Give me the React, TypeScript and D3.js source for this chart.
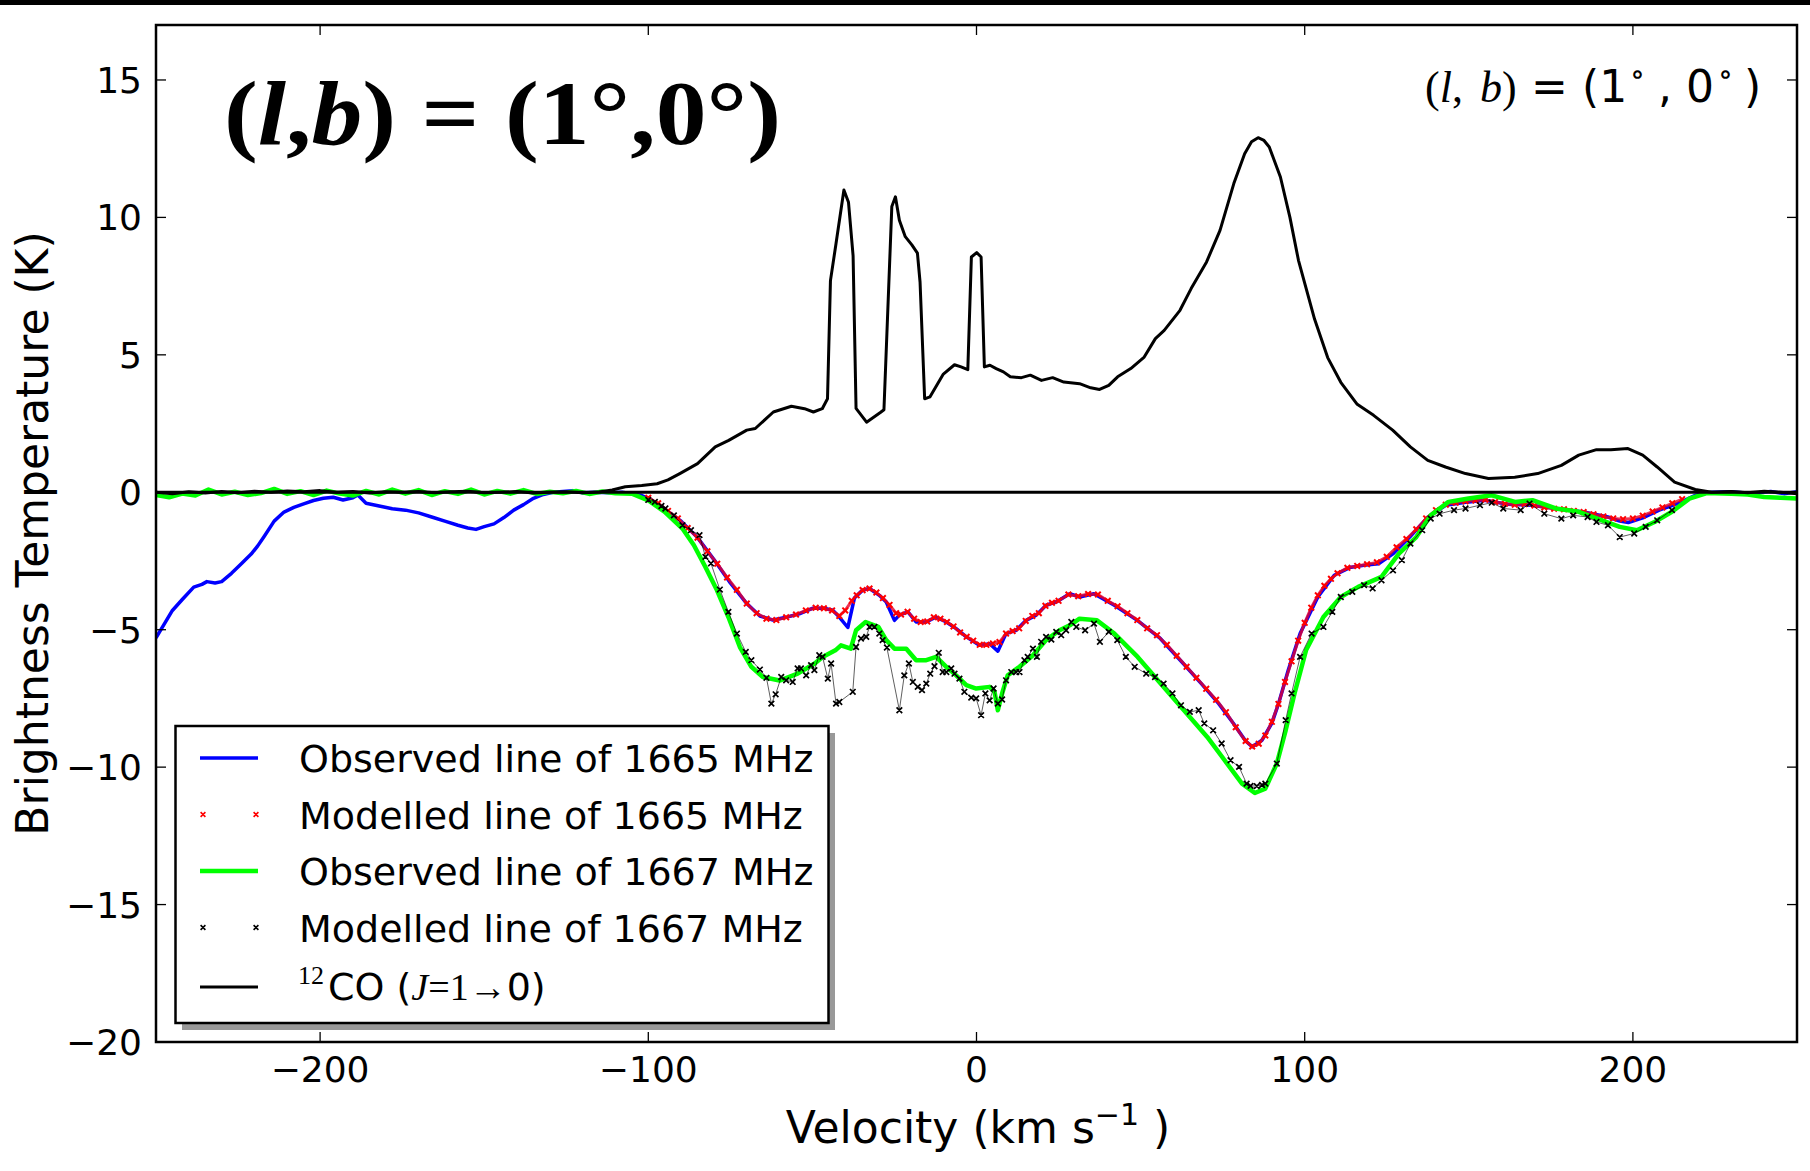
import React from "react";
import * as d3 from "d3";

// axis ticks
const xTicks = [-200, -100, 0, 100, 200];
const yTicks = [-20, -15, -10, -5, 0, 5, 10, 15];

// 12CO (J=1-0) spectrum [velocity, T_B]
const coLine: [number, number][] = [
  [-250, 0.0], [-245, -0.05], [-240, 0.02], [-235, -0.03], [-230, 0.03], [-225, -0.02], [-220, 0.04],
  [-215, 0.0], [-210, 0.05], [-205, 0.02], [-200, 0.06], [-195, 0.0], [-190, 0.03], [-185, -0.03],
  [-180, 0.02], [-175, 0.0], [-170, 0.03], [-165, -0.02], [-160, 0.02], [-155, 0.04], [-150, -0.02],
  [-145, 0.0], [-140, 0.03], [-135, -0.03], [-130, 0.0], [-125, 0.02], [-120, -0.02], [-115, 0.01],
  [-111, 0.08], [-107, 0.2], [-102, 0.25], [-97.3, 0.31], [-94, 0.45], [-90.4, 0.68], [-85, 1.04],
  [-79.6, 1.65], [-75.5, 1.89], [-70, 2.26], [-67.4, 2.32], [-61.9, 2.92], [-56.4, 3.13], [-52.4, 3.04],
  [-49.7, 2.92], [-47, 3.04], [-45.4, 3.4], [-44.5, 7.7], [-42.8, 9.05], [-40.4, 11.0], [-39, 10.55],
  [-37.6, 8.6], [-36.7, 3.05], [-33.5, 2.55], [-29.3, 2.9], [-28.2, 3.0], [-25.8, 10.4], [-24.7, 10.75],
  [-23.5, 9.9], [-21.7, 9.3], [-19.7, 9.0], [-18, 8.7], [-17.2, 7.65], [-15.8, 3.4], [-14.2, 3.47],
  [-10.1, 4.3], [-6.7, 4.64], [-4.7, 4.56], [-2.65, 4.46], [-1.56, 8.56], [0.06, 8.72], [1.4, 8.56],
  [2.4, 4.56], [4.1, 4.62], [6, 4.5], [8.2, 4.38], [10.3, 4.2], [13.7, 4.17], [16.4, 4.26], [19.8, 4.07],
  [23.2, 4.17], [26.6, 4.01], [31.4, 3.95], [34.8, 3.8], [37.5, 3.74], [40.3, 3.89], [43, 4.2], [47, 4.5],
  [51.1, 4.92], [54.5, 5.59], [57.2, 5.89], [62, 6.62], [65.4, 7.41], [70.1, 8.38], [74.2, 9.53],
  [78.4, 11.23], [81.7, 12.32], [83.8, 12.75], [85.8, 12.9], [87.6, 12.8], [89.2, 12.56], [92.6, 11.47],
  [95.5, 10.0], [98.1, 8.44], [103, 6.3], [107, 4.9], [111, 4.0], [116, 3.2], [121, 2.8], [126.8, 2.26],
  [132.2, 1.65], [137.5, 1.16], [142.9, 0.92], [149, 0.68], [156, 0.5], [164, 0.55], [171, 0.68],
  [178.2, 0.98], [183.5, 1.35], [188.9, 1.55], [193.3, 1.55], [198.5, 1.59], [203, 1.35], [207.4, 0.92],
  [212.7, 0.37], [219, 0.1], [224, 0.0], [230, 0.03], [235, -0.02], [240, 0.04], [245, 0.0], [250, -0.05],
];

// observed OH 1665 MHz (blue)
const obs1665: [number, number][] = [
  [-250, -5.3], [-247, -4.7], [-245, -4.3], [-242, -3.9], [-238.5, -3.45], [-236, -3.35], [-234.5, -3.25],
  [-232, -3.3], [-230, -3.25], [-227, -2.95], [-224, -2.6], [-221, -2.25], [-219, -1.95], [-217, -1.6],
  [-214, -1.05], [-211, -0.72], [-208, -0.55], [-205, -0.42], [-202, -0.3], [-199, -0.22], [-196, -0.18],
  [-193, -0.28], [-190, -0.2], [-188.5, -0.1], [-186, -0.4], [-182, -0.5], [-178, -0.6], [-174, -0.65],
  [-170, -0.75], [-166, -0.9], [-162, -1.05], [-158, -1.2], [-155, -1.3], [-152.5, -1.35], [-150, -1.25],
  [-147, -1.15], [-144, -0.92], [-141, -0.65], [-138, -0.45], [-135, -0.22], [-132, -0.08], [-129, 0.0],
  [-126, 0.03], [-123, 0.06], [-120, -0.02], [-116, 0.0], [-112, -0.02], [-108, 0.0], [-105, -0.05],
  [-102, -0.12], [-100, -0.22], [-95, -0.62], [-90, -1.05], [-85, -1.65], [-80, -2.45], [-75, -3.3],
  [-70, -4.05], [-66, -4.5], [-62, -4.65], [-58, -4.55], [-54, -4.42], [-50, -4.22], [-46.5, -4.22],
  [-43.8, -4.29], [-41.8, -4.54], [-39.2, -4.92], [-37.2, -3.85], [-34.7, -3.56], [-32.6, -3.5],
  [-29.6, -3.75], [-27.5, -3.99], [-25, -4.66], [-23.5, -4.47], [-20.9, -4.35], [-18.4, -4.72],
  [-15.3, -4.72], [-12.3, -4.54], [-9.2, -4.72], [-6.2, -4.96], [-3.1, -5.26], [0.9, -5.57], [4, -5.51],
  [6.5, -5.78], [9, -5.14], [12.1, -5.02], [15.1, -4.66], [18.2, -4.47], [21.2, -4.11], [24.3, -3.99],
  [28.4, -3.69], [31.4, -3.81], [35.8, -3.69], [42, -4.11], [49, -4.66], [56, -5.32], [63, -6.23],
  [68.5, -6.96], [73.8, -7.69], [78.3, -8.41], [82, -9.05], [84, -9.26], [87, -9.02], [90, -8.4],
  [92, -7.7], [95, -6.47], [98.6, -5.14], [104, -3.81], [109, -3.02], [113.7, -2.74], [118, -2.66],
  [122.5, -2.6], [127, -2.23], [132, -1.63], [137.6, -0.9], [143, -0.47], [150, -0.35], [155, -0.29],
  [162, -0.44], [169, -0.47], [176.5, -0.59], [185, -0.72], [192.4, -0.9], [196, -1.05], [198.6, -1.1],
  [203, -0.93], [208, -0.65], [213.6, -0.41], [219, -0.11], [224, 0.0], [230, 0.02], [236, -0.04],
  [242, 0.03], [246, -0.05], [250, 0.02],
];

// modelled OH 1665 MHz (red crosses)
const mod1665: [number, number][] = [
  [-100, -0.2], [-97, -0.4], [-94, -0.68], [-91, -0.95], [-88, -1.3], [-85, -1.65], [-82, -2.15],
  [-79, -2.6], [-76, -3.1], [-73, -3.55], [-70, -4.05], [-67, -4.4], [-64, -4.6], [-61, -4.65],
  [-58, -4.55], [-55, -4.45], [-52, -4.3], [-49, -4.2], [-46.5, -4.22], [-44, -4.3], [-41.8, -4.5],
  [-40, -4.3], [-38, -3.95], [-36.5, -3.75], [-34.7, -3.56], [-32.6, -3.5], [-30.5, -3.65],
  [-28.5, -3.85], [-26.5, -4.1], [-24.5, -4.4], [-23, -4.45], [-21, -4.35], [-19, -4.6], [-17, -4.72],
  [-15, -4.7], [-13, -4.55], [-11, -4.6], [-9, -4.72], [-7, -4.88], [-5, -5.1], [-3, -5.26], [-1, -5.4],
  [1, -5.55], [3, -5.55], [5, -5.5], [7, -5.45], [9, -5.14], [11, -5.05], [13, -4.95], [15, -4.68],
  [17, -4.5], [19, -4.4], [21, -4.13], [23, -4.02], [25, -3.95], [28, -3.72], [31, -3.78], [34, -3.7],
  [37, -3.72], [40, -3.95], [43, -4.15], [46, -4.4], [49, -4.65], [52, -4.95], [55, -5.2], [58, -5.55],
  [61, -5.95], [64, -6.35], [67, -6.75], [70, -7.15], [73, -7.55], [76, -8.0], [79, -8.55], [82, -9.05],
  [84, -9.25], [86, -9.15], [88, -8.85], [90, -8.35], [92, -7.7], [94, -6.9], [96, -6.15], [98, -5.4],
  [100, -4.75], [102, -4.2], [104, -3.75], [106, -3.4], [108, -3.15], [110, -2.95], [113, -2.75],
  [116, -2.68], [119, -2.62], [122, -2.55], [125, -2.35], [128, -2.0], [131, -1.7], [134, -1.35],
  [137, -0.95], [140, -0.65], [143, -0.45], [146, -0.38], [149, -0.33], [152, -0.3], [155, -0.27],
  [158, -0.35], [161, -0.42], [164, -0.45], [167, -0.43], [170, -0.48], [173, -0.55], [176, -0.6],
  [179, -0.62], [182, -0.68], [185, -0.72], [188, -0.8], [191, -0.88], [194, -0.95], [197, -0.98],
  [200, -0.95], [203, -0.85], [206, -0.7], [209, -0.55], [212, -0.4], [215, -0.25],
];

// observed OH 1667 MHz (green)
const obs1667: [number, number][] = [
  [-250, -0.1], [-246, -0.18], [-242, -0.05], [-238, -0.12], [-234, 0.1], [-230, -0.08], [-226, 0.02],
  [-222, -0.1], [-218, -0.03], [-214, 0.12], [-210, -0.06], [-206, 0.04], [-202, -0.1], [-198, 0.06],
  [-194, -0.05], [-190, -0.12], [-186, 0.05], [-182, -0.08], [-178, 0.1], [-174, -0.05], [-170, 0.08],
  [-166, -0.1], [-162, 0.04], [-158, -0.06], [-154, 0.1], [-150, -0.08], [-146, 0.05], [-142, -0.05],
  [-138, 0.08], [-134, -0.06], [-130, 0.02], [-126, -0.04], [-122, 0.05], [-118, -0.06], [-114, 0.03],
  [-110, -0.04], [-105, -0.05], [-100, -0.3], [-95, -0.71], [-89.6, -1.32], [-86.1, -1.93],
  [-82.6, -2.72], [-79.1, -3.56], [-75.6, -4.54], [-72.1, -5.63], [-68.6, -6.35], [-65.1, -6.72],
  [-60, -6.85], [-54.5, -6.6], [-49.3, -6.23], [-46.9, -5.99], [-43, -5.75], [-41.3, -5.57],
  [-38.3, -5.69], [-36.7, -5.02], [-33.8, -4.72], [-29.9, -4.9], [-27.5, -5.38], [-25, -5.69],
  [-21.4, -5.69], [-18.4, -6.11], [-15.3, -6.11], [-12.3, -5.99], [-9.2, -6.35], [-6.2, -6.66],
  [-3.1, -7.02], [-0.1, -7.14], [4, -7.08], [5.5, -7.26], [6.5, -7.93], [7.8, -7.32], [9.5, -6.66],
  [13.1, -6.35], [17.2, -5.93], [21.2, -5.38], [25.3, -5.02], [28.4, -4.84], [31.4, -4.6], [36.7, -4.66],
  [42, -5.14], [49.1, -5.99], [56.1, -6.96], [63.2, -7.93], [70.3, -8.9], [75.6, -9.75], [80.9, -10.6],
  [84.8, -10.94], [88, -10.78], [91.5, -9.87], [94.2, -8.66], [96.9, -7.32], [100.4, -5.75],
  [105.7, -4.54], [111, -3.81], [116.3, -3.44], [119.9, -3.26], [123.4, -3.08], [128.7, -2.23],
  [134, -1.63], [138.4, -0.84], [143.8, -0.35], [149.9, -0.23], [157, -0.11], [164.1, -0.35],
  [169.4, -0.29], [176.5, -0.59], [183.5, -0.71], [190.6, -1.02], [196, -1.26], [201.2, -1.38],
  [206.6, -1.08], [211.9, -0.71], [217.2, -0.23], [222.5, -0.03], [230, -0.05], [235, -0.08],
  [240, -0.17], [245, -0.2], [250, -0.23],
];

// modelled OH 1667 MHz (black crosses)
const mod1667: [number, number][] = [
  [-100, -0.28], [-98, -0.35], [-96, -0.5], [-94.8, -0.59], [-92.2, -0.84], [-89.6, -1.2], [-87, -1.38],
  [-84.4, -1.56], [-82.6, -2.35], [-80.9, -2.59], [-78.2, -3.54], [-75.6, -4.35], [-73, -5.14],
  [-70.3, -5.81], [-68.6, -6.11], [-66, -6.45], [-64, -6.75], [-62.5, -7.69], [-61.2, -7.35],
  [-59.5, -6.72], [-58, -6.84], [-56, -6.9], [-54.5, -6.41], [-53.5, -6.41], [-51.9, -6.66],
  [-50.4, -6.29], [-49.4, -6.47], [-47.9, -5.93], [-46.9, -5.99], [-45.3, -6.78], [-44.3, -6.23],
  [-42.8, -7.69], [-41.8, -7.63], [-37.7, -7.26], [-36.7, -5.63], [-35.2, -5.32], [-33.6, -5.26],
  [-32.6, -4.9], [-31.1, -4.9], [-29.6, -5.14], [-28.6, -5.38], [-27.3, -5.65], [-23.5, -7.93],
  [-22, -6.66], [-20.6, -6.23], [-19.4, -6.9], [-17.9, -7.08], [-16.6, -7.2], [-15.3, -6.96],
  [-14.1, -6.6], [-12.8, -6.33], [-11.5, -5.84], [-10.3, -6.54], [-9.2, -6.54], [-7.7, -6.41],
  [-6.7, -6.6], [-5.2, -6.78], [-3.7, -7.26], [-1.6, -7.47], [-0.1, -7.5], [1.4, -8.11], [2.7, -7.32],
  [4, -7.57], [5.2, -7.14], [6.5, -7.69], [7.8, -7.54], [9, -6.84], [10.6, -6.54], [12.1, -6.54],
  [13.1, -6.54], [14.6, -6.11], [15.6, -5.99], [17.2, -5.69], [18.4, -5.99], [19.7, -5.44],
  [21.2, -5.26], [22.8, -5.36], [24.3, -5.08], [25.8, -5.2], [27.3, -5.02], [28.9, -4.72], [30.4, -4.9],
  [33.1, -5.02], [35.8, -4.78], [37.6, -5.44], [40.3, -5.08], [42.9, -5.38], [45.5, -5.99], [48.2, -6.35],
  [51.7, -6.6], [54.4, -6.72], [57, -6.96], [59.7, -7.32], [62.3, -7.75], [65, -7.99], [67.7, -7.93],
  [69.4, -8.41], [72.1, -8.66], [74.7, -9.14], [77.4, -9.75], [80, -9.99], [82.3, -10.6], [83.5, -10.68],
  [85.4, -10.69], [87, -10.65], [88, -10.6], [91.5, -9.87], [94.2, -8.29], [96, -7.32], [98.6, -5.99],
  [102.1, -5.14], [105.7, -4.9], [108.4, -4.35], [111, -3.81], [114.5, -3.62], [118.1, -3.38],
  [120.7, -3.5], [123.4, -3.2], [126.9, -2.84], [129.6, -2.47], [132.2, -1.87], [135.8, -1.38],
  [138.4, -0.96], [141.1, -0.78], [145.5, -0.65], [149, -0.59], [153.4, -0.47], [157, -0.38],
  [160.5, -0.59], [165.8, -0.65], [168.5, -0.41], [173, -0.78], [178.2, -0.96], [181.8, -0.84],
  [186.2, -0.9], [188.9, -1.08], [192.4, -1.2], [196, -1.63], [200.4, -1.5], [203.9, -1.26],
  [207.4, -1.02], [211.9, -0.65],
];

const legendLabels = [
  "Observed line of 1665 MHz",
  "Modelled line of 1665 MHz",
  "Observed line of 1667 MHz",
  "Modelled line of 1667 MHz",
];

const W = 1810;
const H = 1171;
const left = 156;
const right = 1797;
const top = 25;
const bottom = 1042;
const sans = "'DejaVu Sans', sans-serif";
const serif = "'Liberation Serif', 'DejaVu Serif', serif";

export default function App() {
  const x = d3.scaleLinear().domain([-250, 250]).range([left, right]);
  const y = d3.scaleLinear().domain([-20, 17]).range([bottom, top]);
  const line = d3
    .line<[number, number]>()
    .x((d) => x(d[0]))
    .y((d) => y(d[1]));

  const crossAt = (cx: number, cy: number, s: number) =>
    `M${cx - s},${cy - s}L${cx + s},${cy + s}M${cx - s},${cy + s}L${cx + s},${cy - s}`;
  const crosses = (pts: [number, number][], s: number) =>
    pts.map((d) => crossAt(x(d[0]), y(d[1]), s)).join("");

  const rowY = [758, 814.5, 871, 927.5, 987];

  return (
    <svg
      width={W}
      height={H}
      style={{ position: "absolute", left: 0, top: 0, background: "#fff" }}
    >
      <rect x={0} y={0} width={W} height={H} fill="#fff" />
      <rect x={0} y={0} width={W} height={5} fill="#000" />
      <defs>
        <clipPath id="plot">
          <rect x={left} y={top} width={right - left} height={bottom - top} />
        </clipPath>
      </defs>

      <g clipPath="url(#plot)" fill="none" strokeLinejoin="round">
        <path d={line(obs1665) || ""} stroke="#0000ff" strokeWidth={3.5} />
        <path d={line(mod1665) || ""} stroke="#e8002a" strokeWidth={3} strokeOpacity={0.8} />
        <path d={crosses(mod1665, 2.8)} stroke="#ff0000" strokeWidth={2} />
        <path d={line(obs1667) || ""} stroke="#00ff00" strokeWidth={4.5} />
        <path d={line(mod1667) || ""} stroke="#000" strokeWidth={0.9} strokeOpacity={0.7} />
        <path d={crosses(mod1667, 2.8)} stroke="#000" strokeWidth={1.7} />
        <path d={line(coLine) || ""} stroke="#000" strokeWidth={3} />
        <line x1={left} x2={right} y1={y(0)} y2={y(0)} stroke="#000" strokeWidth={3} />
      </g>

      {/* frame */}
      <rect
        x={left}
        y={top}
        width={right - left}
        height={bottom - top}
        fill="none"
        stroke="#000"
        strokeWidth={2.5}
      />

      {/* x ticks */}
      {xTicks.map((t) => (
        <g key={"x" + t}>
          <line x1={x(t)} x2={x(t)} y1={bottom} y2={bottom - 10} stroke="#000" strokeWidth={1.3} />
          <line x1={x(t)} x2={x(t)} y1={top} y2={top + 10} stroke="#000" strokeWidth={1.3} />
          <text
            x={x(t)}
            y={1082}
            textAnchor="middle"
            fontFamily={sans}
            fontSize={36}
          >
            {t < 0 ? "\u2212" + Math.abs(t) : t}
          </text>
        </g>
      ))}

      {/* y ticks */}
      {yTicks.map((t) => (
        <g key={"y" + t}>
          <line x1={left} x2={left + 10} y1={y(t)} y2={y(t)} stroke="#000" strokeWidth={1.3} />
          <line x1={right} x2={right - 10} y1={y(t)} y2={y(t)} stroke="#000" strokeWidth={1.3} />
          <text
            x={142}
            y={y(t)}
            dy="0.36em"
            textAnchor="end"
            fontFamily={sans}
            fontSize={36}
          >
            {t < 0 ? "\u2212" + Math.abs(t) : t}
          </text>
        </g>
      ))}

      {/* axis titles */}
      <text x={978} y={1143} textAnchor="middle" fontFamily={sans} fontSize={44}>
        Velocity (km s
        <tspan fontSize={30} dy={-18}>
          {"\u22121"}
        </tspan>
        <tspan dy={18}> )</tspan>
      </text>
      <text
        transform={`translate(48,${(top + bottom) / 2}) rotate(-90)`}
        textAnchor="middle"
        fontFamily={sans}
        fontSize={44}
      >
        Brightness Temperature (K)
      </text>

      {/* big position label */}
      <text
        x={224}
        y={144}
        fontFamily={serif}
        fontWeight="bold"
        fontSize={90}
        textLength={557}
        lengthAdjust="spacingAndGlyphs"
      >
        (<tspan fontStyle="italic">l</tspan>,<tspan fontStyle="italic">b</tspan>) = (1°,0°)
      </text>

      {/* small position label */}
      <g fontSize={44}>
        <text x={1425} y={102} fontFamily={serif}>
          (<tspan fontStyle="italic">l</tspan>, <tspan fontStyle="italic" dx={6}>b</tspan>)
        </text>
        <text x={1531} y={102} fontFamily={sans}>=</text>
        <text x={1582} y={102} fontFamily={sans}>(1</text>
        <text x={1630} y={84} fontFamily={serif} fontSize={30}>{"\u2218"}</text>
        <text x={1658} y={102} fontFamily={sans}>,</text>
        <text x={1686} y={102} fontFamily={sans}>0</text>
        <text x={1718} y={84} fontFamily={serif} fontSize={30}>{"\u2218"}</text>
        <text x={1744} y={102} fontFamily={sans}>)</text>
      </g>

      {/* legend */}
      <rect x={182} y={733} width={653} height={297} fill="#999" />
      <rect
        x={175.5}
        y={726}
        width={653}
        height={297}
        fill="#fff"
        stroke="#000"
        strokeWidth={2.5}
      />
      <line x1={200} x2={258} y1={rowY[0]} y2={rowY[0]} stroke="#0000ff" strokeWidth={3.5} />
      <path
        d={crossAt(203, rowY[1], 2.4) + crossAt(256, rowY[1], 2.4)}
        stroke="#ff0000"
        strokeWidth={1.6}
      />
      <line x1={200} x2={258} y1={rowY[2]} y2={rowY[2]} stroke="#00ff00" strokeWidth={4.5} />
      <path
        d={crossAt(203, rowY[3], 2.4) + crossAt(256, rowY[3], 2.4)}
        stroke="#000"
        strokeWidth={1.6}
      />
      <line x1={200} x2={258} y1={rowY[4]} y2={rowY[4]} stroke="#000" strokeWidth={2.8} />
      {legendLabels.map((lab, i) => (
        <text key={lab} x={299} y={rowY[i] + 14} fontFamily={sans} fontSize={38}>
          {lab}
        </text>
      ))}
      <text x={298} y={rowY[4] + 13} fontSize={38}>
        <tspan fontFamily={serif} fontSize={26} dy={-16}>
          12
        </tspan>
        <tspan fontFamily={sans} dy={16} dx={4}>
          CO (
        </tspan>
        <tspan fontFamily={serif} fontStyle="italic">
          J
        </tspan>
        <tspan fontFamily={serif}>=1→</tspan>
        <tspan fontFamily={sans}>0)</tspan>
      </text>
    </svg>
  );
}
